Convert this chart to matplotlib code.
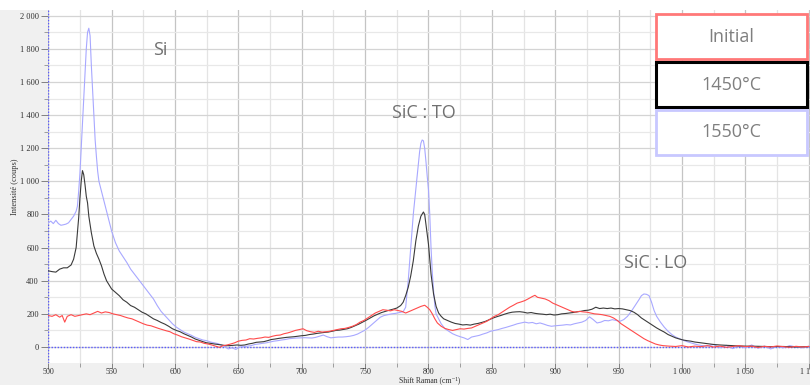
import matplotlib
matplotlib.use("Agg")
import matplotlib.pyplot as plt
from matplotlib.patches import Rectangle
from matplotlib.ticker import MultipleLocator, FuncFormatter

# Raman spectra: shift (cm-1) and intensity (counts)
initial_x = [500, 503, 506, 509, 511, 513, 515, 518, 521, 524, 527, 530, 533, 536, 539, 542, 545, 548, 551, 554,
             557, 560, 563, 566, 569, 572, 575, 578, 581, 584, 587, 590, 593, 596, 599, 602, 605, 608, 611, 614,
             617, 620, 623, 626, 629, 632, 635, 638, 641, 644, 647, 650, 653, 656, 659, 662, 665, 668, 671, 674,
             677, 680, 683, 686, 689, 692, 695, 698, 701, 704, 707, 710, 713, 716, 719, 722, 725, 728, 731, 734,
             737, 740, 743, 746, 749, 752, 755, 758, 761, 764, 767, 770, 773, 776, 779, 782, 785, 788, 791, 794,
             797, 799, 801, 803, 805, 807, 810, 813, 816, 819, 822, 825, 828, 831, 834, 837, 840, 843, 846, 849,
             852, 855, 858, 861, 864, 867, 870, 873, 876, 879, 882, 884, 886, 889, 892, 895, 898, 901, 904, 907,
             910, 913, 916, 919, 922, 925, 928, 931, 934, 937, 940, 943, 946, 949, 952, 955, 958, 961, 964, 967,
             970, 973, 976, 979, 982, 985, 990, 995, 1000, 1005, 1010, 1015, 1020, 1025, 1030, 1035, 1040, 1045,
             1050, 1055, 1060, 1065, 1070, 1075, 1080, 1085, 1090, 1095, 1100]
initial_y = [190, 185, 195, 180, 190, 150, 185, 195, 185, 190, 195, 200, 195, 205, 215, 205, 212, 208, 200, 195,
             190, 182, 175, 170, 160, 150, 140, 132, 128, 120, 112, 105, 98, 92, 80, 72, 62, 55, 48, 40,
             32, 30, 22, 18, 12, 5, -2, 8, 12, 18, 25, 35, 40, 42, 50, 48, 52, 55, 60, 58,
             65, 70, 72, 80, 85, 92, 100, 105, 110, 98, 92, 88, 95, 90, 92, 95, 100, 105, 110, 112,
             118, 125, 135, 150, 160, 175, 190, 205, 215, 225, 222, 218, 225, 220, 215, 205, 215, 225, 235, 245,
             252, 240, 225, 200, 170, 145, 125, 112, 105, 100, 105, 110, 108, 112, 115, 125, 135, 145, 155, 170,
             185, 195, 210, 225, 240, 252, 265, 272, 280, 292, 305, 312, 300, 295, 290, 280, 265, 255, 245, 235,
             225, 215, 210, 215, 212, 210, 205, 200, 198, 195, 190, 185, 175, 160, 140, 125, 110, 95, 80, 65,
             50, 38, 28, 18, 12, 8, 5, 3, 8, 0, 5, 2, 8, 0, 5, -2, 3, 8,
             2, 5, -3, 4, 0, 6, 2, -2, 4, 0, 3]

c1450_x = [500, 503, 506, 509, 512, 515, 518, 520, 522, 524, 525, 526, 527, 528, 529, 530, 531, 532, 534, 536,
           538, 540, 542, 544, 546, 548, 550, 553, 556, 559, 562, 565, 568, 571, 574, 577, 580, 583, 586, 589,
           592, 595, 598, 601, 604, 607, 610, 613, 616, 619, 622, 625, 628, 631, 634, 637, 640, 643, 646, 649,
           652, 655, 658, 661, 664, 667, 670, 673, 676, 679, 682, 685, 688, 691, 694, 697, 700, 703, 706, 709,
           712, 715, 718, 721, 724, 727, 730, 733, 736, 739, 742, 745, 748, 751, 754, 757, 760, 763, 766, 769,
           772, 775, 778, 780, 782, 784, 786, 788, 790, 792, 794, 796, 797, 798, 800, 801, 802, 804, 806, 808,
           810, 812, 815, 818, 821, 824, 827, 830, 833, 836, 839, 842, 845, 848, 851, 854, 857, 860, 863, 866,
           869, 872, 875, 878, 881, 884, 887, 890, 893, 896, 899, 902, 905, 908, 911, 914, 917, 920, 923, 926,
           929, 932, 935, 938, 941, 944, 947, 950, 953, 956, 959, 962, 965, 968, 971, 974, 977, 980, 983, 986,
           989, 992, 995, 998, 1001, 1004, 1007, 1010, 1015, 1020, 1025, 1030, 1035, 1040, 1045, 1050, 1060, 1070,
           1080, 1090, 1100]
c1450_y = [460, 455, 452, 470, 478, 478, 495, 530, 600, 780, 900, 1000, 1065, 1040, 980, 910, 870, 790, 690, 610,
           565, 530, 490, 440, 400, 375, 350, 330, 310, 285, 270, 250, 240, 225, 210, 200, 185, 170, 160, 148,
           138, 125, 110, 100, 92, 80, 70, 60, 48, 40, 32, 25, 22, 18, 15, 12, 8, 8, 10, 12,
           10, 12, 18, 22, 28, 30, 32, 38, 45, 48, 52, 55, 58, 60, 62, 65, 68, 70, 75, 78,
           82, 85, 88, 90, 95, 100, 102, 106, 110, 118, 128, 138, 150, 162, 175, 188, 198, 208, 215, 222,
           228, 235, 250, 270, 310, 360, 430, 520, 640, 730, 790, 815, 800, 740, 620, 530, 440, 320, 245, 205,
           185, 170, 160, 150, 142, 138, 133, 135, 132, 138, 142, 148, 155, 165, 175, 183, 190, 198, 205, 210,
           212, 213, 210, 205, 208, 203, 200, 198, 195, 198, 193, 195, 200, 202, 205, 208, 212, 215, 220, 222,
           228, 240, 232, 235, 232, 235, 230, 232, 230, 225, 220, 210, 195, 175, 160, 145, 130, 115, 102, 90,
           75, 65, 55, 48, 42, 38, 35, 30, 25, 20, 15, 12, 10, 8, 6, 5, 4, 2,
           3, 0, 2]

c1550_x = [500, 502, 504, 506, 508, 510, 512, 514, 516, 518, 520, 522, 523, 524, 525, 526, 527, 528, 529, 530,
           531, 532, 533, 534, 535, 536, 537, 538, 539, 540, 542, 544, 546, 548, 550, 553, 556, 559, 562, 565,
           568, 571, 574, 577, 580, 583, 586, 589, 592, 595, 598, 601, 604, 607, 610, 613, 616, 619, 622, 625,
           628, 631, 634, 637, 640, 642, 645, 648, 651, 654, 657, 660, 663, 666, 669, 672, 675, 678, 681, 684,
           687, 690, 693, 696, 699, 702, 705, 708, 711, 714, 717, 720, 723, 726, 729, 732, 735, 738, 741, 744,
           747, 750, 753, 756, 759, 762, 765, 768, 771, 774, 777, 780, 782, 784, 786, 788, 790, 792, 793, 794,
           795, 796, 797, 798, 799, 800, 801, 802, 803, 804, 805, 806, 808, 810, 813, 816, 819, 822, 825, 828,
           831, 834, 837, 840, 843, 846, 849, 852, 855, 858, 861, 864, 867, 870, 873, 876, 879, 882, 885, 888,
           891, 894, 897, 900, 903, 906, 909, 912, 915, 918, 921, 924, 927, 930, 933, 936, 939, 942, 945, 948,
           951, 954, 957, 960, 963, 966, 968, 970, 972, 974, 976, 978, 980, 983, 986, 989, 992, 995, 998, 1001,
           1004, 1007, 1010, 1013, 1016, 1020, 1025, 1030, 1035, 1040, 1045, 1050, 1055, 1060, 1065, 1070, 1075,
           1080, 1085, 1090, 1095, 1100]
c1550_y = [750, 760, 745, 765, 745, 735, 738, 742, 750, 770, 790, 820, 850, 940, 1050, 1200, 1350, 1500, 1650, 1800,
           1900, 1925, 1880, 1700, 1550, 1400, 1250, 1150, 1060, 1000, 940, 880, 820, 760, 700, 630, 580, 545, 510, 470,
           440, 410, 380, 350, 320, 290, 250, 215, 190, 165, 140, 120, 105, 90, 80, 70, 58, 50, 42, 38,
           30, 25, 20, 10, 0, -12, -5, -15, 0, 2, 5, 8, 15, 18, 22, 25, 30, 35, 38, 42,
           45, 50, 52, 54, 55, 56, 55, 54, 58, 65, 72, 62, 55, 58, 60, 60, 62, 65, 70, 78,
           90, 102, 120, 140, 160, 180, 190, 195, 200, 203, 208, 213, 240, 400, 600, 800, 950, 1100, 1180, 1230,
           1250, 1245, 1200, 1120, 1030, 950, 800, 600, 450, 340, 250, 200, 170, 140, 110, 95, 80, 70, 62, 55,
           45, 60, 65, 70, 78, 85, 95, 100, 105, 112, 118, 125, 132, 140, 145, 150, 145, 148, 140, 145,
           138, 130, 125, 128, 130, 132, 135, 133, 140, 145, 150, 160, 182, 165, 145, 150, 160, 158, 165, 160,
           155, 165, 185, 215, 250, 285, 310, 320, 318, 310, 270, 220, 185, 150, 120, 95, 75, 60, 50, 40,
           32, 25, 18, 12, 8, 5, 15, -5, 10, -10, 5, -5, 12, -8, 5, -12, 3,
           -5, 8, 0, -5, 5]

series_labels = ["Initial", "1450°C", "1550°C"]
peak_labels = ["Si", "SiC : TO", "SiC : LO"]
peak_positions = [(588, 1795), (796, 1413), (979, 507)]

W, H = 810, 385
fig = plt.figure(figsize=(W / 100, H / 100), dpi=100)
fig.patch.set_facecolor("white")

# grey panel behind the plotting area
panel = Rectangle((0, 0), 1, (H - 10) / H, transform=fig.transFigure,
                  facecolor="#f0f0f0", edgecolor="none", zorder=-10)
fig.add_artist(panel)

ax = fig.add_axes([48 / W, (H - 362.7) / H, (W - 48) / W, (362.7 - 10) / H])
ax.set_zorder(1)
ax.set_facecolor("white")
ax.set_xlim(499.8, 1101)
ax.set_ylim(-95, 2035)

ax.xaxis.set_major_locator(MultipleLocator(50))
ax.xaxis.set_minor_locator(MultipleLocator(25))
ax.yaxis.set_major_locator(MultipleLocator(200))
ax.yaxis.set_minor_locator(MultipleLocator(100))

ax.grid(which="major", axis="x", color="#c4c4c4", lw=0.9)
ax.grid(which="minor", axis="x", color="#e4e4e4", lw=0.9)
ax.grid(which="major", axis="y", color="#d4d4d4", lw=0.9)
ax.grid(which="minor", axis="y", color="#e8e8e8", lw=0.9)
ax.set_axisbelow(True)

def thousands(v, pos):
    return f"{int(round(v)):,}".replace(",", " ")

ax.xaxis.set_major_formatter(FuncFormatter(thousands))
ax.yaxis.set_major_formatter(FuncFormatter(thousands))

tick_font = ["Liberation Serif", "DejaVu Serif"]
ax.tick_params(which="major", length=5, width=0.6, color="#707070", labelsize=6, labelcolor="#303030", pad=1.5)
ax.tick_params(axis="x", which="major", length=4, pad=0, labelsize=5.8)
ax.tick_params(which="minor", length=3, width=0.6, color="#909090")
for lab in ax.get_xticklabels() + ax.get_yticklabels():
    lab.set_family(tick_font)

for s in ax.spines.values():
    s.set_visible(False)

# zero line and left reference line
ax.axhline(0, color="#5a5aff", lw=1.0, ls=(0, (1, 1.2)), zorder=1)
ax.axvline(500, color="#5a5aff", lw=1.0, ls=(0, (1, 1.2)), zorder=1)

ax.plot(c1550_x, c1550_y, color="#a8a8ff", lw=0.8, zorder=3)
ax.plot(c1450_x, c1450_y, color="#3a3a3a", lw=0.8, zorder=4)
ax.plot(initial_x, initial_y, color="#ff4a4a", lw=0.8, zorder=5)

fig.text(15 / W, 1 - 187 / H, "Intensité (coups)", fontsize=6, family=tick_font, color="#303030",
         rotation=90, ha="center", va="center")
fig.text(430 / W, 1 - 380.5 / H, "Shift Raman (cm⁻¹)", fontsize=5.5, family=tick_font,
         color="#303030", ha="center", va="center")

for txt, (px, py) in zip(peak_labels, peak_positions):
    ax.text(px, py, txt, fontsize=13, family="Open Sans", color="#707070", ha="center", va="center", zorder=6)

# legend boxes
box_edges = ["#ff7878", "#000000", "#c8c8ff"]
box_lw = [2.0, 2.2, 2.0]
box_tops = [14, 62, 110]
for lab, ec, lw, top in zip(series_labels, box_edges, box_lw, box_tops):
    x0, x1 = 656, 807
    y0, y1 = top, top + 45
    fig.add_artist(Rectangle((x0 / W, 1 - y1 / H), (x1 - x0) / W, (y1 - y0) / H,
                             transform=fig.transFigure, facecolor="white", edgecolor=ec,
                             lw=lw, zorder=10))
    fig.text((x0 + x1) / 2 / W, 1 - (y0 + y1) / 2 / H, lab, fontsize=13, family="Open Sans",
             color="#7f7f7f", ha="center", va="center", zorder=11)

fig.savefig("out.png", dpi=100)
